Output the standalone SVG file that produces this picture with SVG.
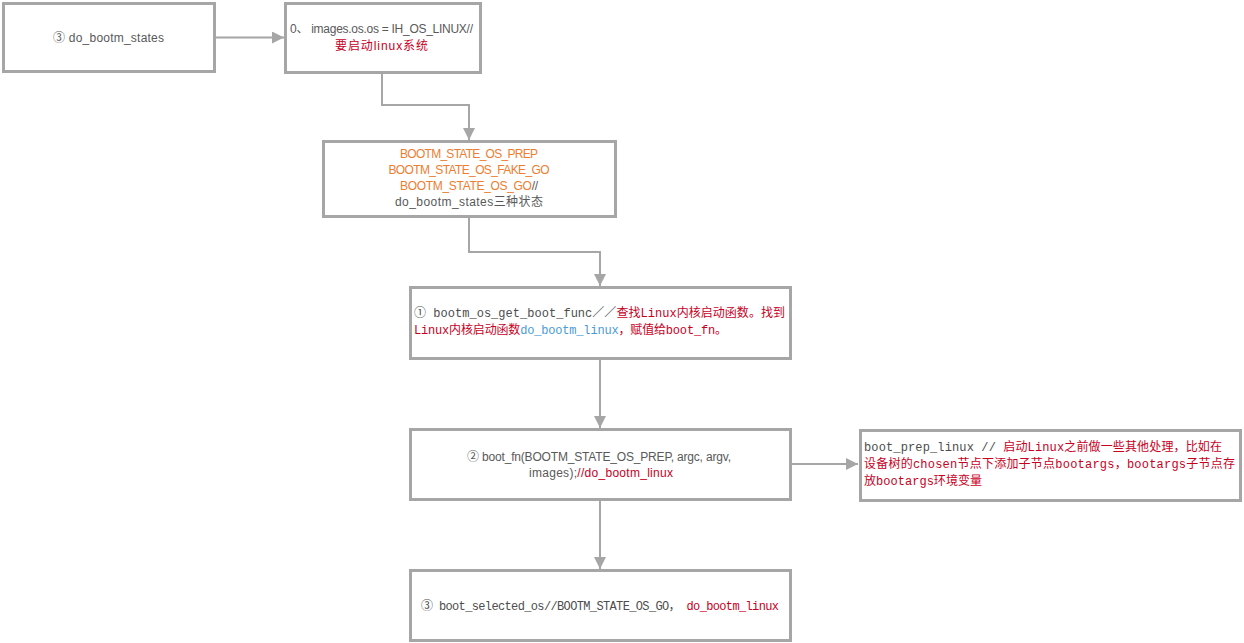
<svg xmlns="http://www.w3.org/2000/svg" width="1244" height="643" viewBox="0 0 1244 643">
<defs>
<style>
.box{fill:#ffffff;stroke:#a6a6a6;stroke-width:3}
.conn{fill:none;stroke:#a6a6a6;stroke-width:2}
.sans{font-family:"Liberation Sans","Noto Sans CJK SC",sans-serif;font-size:12px;fill:#595959}
.mono{font-family:"Liberation Mono","Noto Sans CJK SC",monospace;font-size:12px;fill:#4d4d4d}
.red{fill:#c8001e}
.org{fill:#ed7d31}
.blue{fill:#4a9ad8}
.gray{fill:#595959}
</style>
<marker id="arr" markerUnits="userSpaceOnUse" markerWidth="12" markerHeight="12" refX="10" refY="5" orient="auto" viewBox="0 0 10 10">
<path d="M0,0 L10,5 L0,10 z" fill="#a6a6a6"/>
</marker>
</defs>
<rect width="1244" height="643" fill="#ffffff"/>
<g id="connectors">
<path class="conn" d="M216,37.5 H284" marker-end="url(#arr)"/>
<path class="conn" d="M382,74 V105 H469 V140" marker-end="url(#arr)"/>
<path class="conn" d="M469,218 V252 H600 V286" marker-end="url(#arr)"/>
<path class="conn" d="M600,359 V428" marker-end="url(#arr)"/>
<path class="conn" d="M600,501 V569" marker-end="url(#arr)"/>
<path class="conn" d="M792,464 H858" marker-end="url(#arr)"/>
</g>
<g id="n1">
<rect class="box" x="3.5" y="3.5" width="211" height="68"/>
<text class="sans" x="108.5" y="42" text-anchor="middle" textLength="111">③ do_bootm_states</text>
</g>
<g id="n2">
<rect class="box" x="285.5" y="3.5" width="195" height="69"/>
<text class="sans" x="381.5" y="33" text-anchor="middle" textLength="183">0、 images.os.os = IH_OS_LINUX//</text>
<text class="sans red" x="381.5" y="50" text-anchor="middle" textLength="93">要启动linux系统</text>
</g>
<g id="n3">
<rect class="box" x="323.5" y="141.5" width="292" height="75"/>
<text class="sans org" x="469" y="158" text-anchor="middle" textLength="138">BOOTM_STATE_OS_PREP</text>
<text class="sans org" x="469" y="174" text-anchor="middle" textLength="161">BOOTM_STATE_OS_FAKE_GO</text>
<text class="sans" x="469" y="190" text-anchor="middle" textLength="138"><tspan class="org">BOOTM_STATE_OS_GO</tspan>//</text>
<text class="sans" x="469" y="206" text-anchor="middle" textLength="148">do_bootm_states三种状态</text>
</g>
<g id="n4">
<rect class="box" x="410.5" y="287.5" width="380" height="71"/>
<text class="mono" x="414" y="317" textLength="371">① bootm_os_get_boot_func／／<tspan class="red">查找Linux内核启动函数。找到</tspan></text>
<text class="mono red" x="414" y="334" textLength="313">Linux内核启动函数<tspan class="blue">do_bootm_linux</tspan>，赋值给boot_fn。</text>
</g>
<g id="n5">
<rect class="box" x="410.5" y="429.5" width="380" height="70"/>
<text class="sans" x="599" y="461" text-anchor="middle" textLength="264">② boot_fn(BOOTM_STATE_OS_PREP, argc, argv,</text>
<text class="sans" x="601" y="477" text-anchor="middle" textLength="144">images);<tspan class="red">//do_bootm_linux</tspan></text>
</g>
<g id="n6">
<rect class="box" x="860.5" y="430.5" width="380" height="70"/>
<text class="mono" x="864" y="451" textLength="358">boot_prep_linux // <tspan class="red">启动Linux之前做一些其他处理，比如在</tspan></text>
<text class="mono red" x="864" y="468" textLength="371">设备树的chosen节点下添加子节点bootargs，bootargs子节点存</text>
<text class="mono red" x="864" y="485" textLength="118">放bootargs环境变量</text>
</g>
<g id="n7">
<rect class="box" x="410.5" y="570.5" width="380" height="70"/>
<text class="mono" x="421" y="610" textLength="358">③ boot_selected_os//BOOTM_STATE_OS_GO， <tspan class="red">do_bootm_linux</tspan></text>
</g>
</svg>
